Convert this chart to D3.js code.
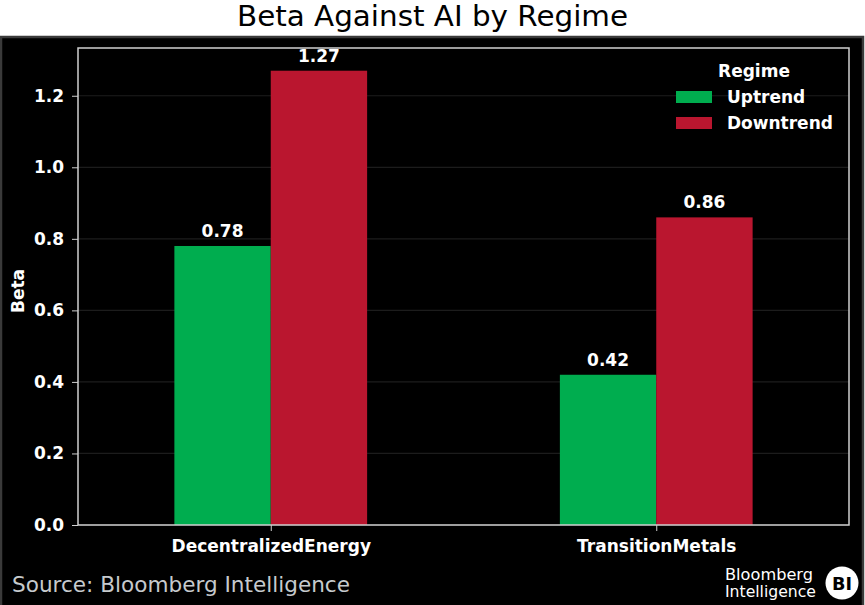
<!DOCTYPE html>
<html><head><meta charset="utf-8">
<script src="https://cdn.jsdelivr.net/npm/d3@7"></script>
<style>
html,body{margin:0;padding:0;background:#fff;}
svg{display:block;}
text{font-family:"DejaVu Sans",sans-serif;}
</style></head>
<body>
<svg id="c" width="865" height="605"></svg>
<script>
const categories = ["DecentralizedEnergy", "TransitionMetals"];
const regimes = ["Uptrend", "Downtrend"];
const uptrend = [0.78, 0.42];
const downtrend = [1.27, 0.86];
const yTicks = [0.0, 0.2, 0.4, 0.6, 0.8, 1.0, 1.2];
const colors = ["#00ad4f", "#ba162f"];
const title = "Beta Against AI by Regime";
const source = "Source: Bloomberg Intelligence";

const series = [uptrend, downtrend];
const svg = d3.select("#c");
const plot = {l: 78, r: 849, t: 48, b: 525};

// title
svg.append("text").attr("x", 432.5).attr("y", 26).attr("text-anchor", "middle")
  .attr("font-size", 28).attr("textLength", 391).attr("lengthAdjust", "spacingAndGlyphs")
  .attr("fill", "#000").text(title);

// black panel
svg.append("rect").attr("x", 1).attr("y", 37).attr("width", 862).attr("height", 570)
  .attr("fill", "#000").attr("stroke", "#3a3a3a").attr("stroke-width", 2.5);

const x = d3.scaleLinear().domain([-0.5, 1.5]).range([plot.l, plot.r]);
const y = d3.scaleLinear().domain([0, 1.27 * 1.05]).range([plot.b, plot.t]);
const bw = x(0.25) - x(0);

// grid
svg.append("g").selectAll("line").data(yTicks).join("line")
  .attr("x1", plot.l).attr("x2", plot.r).attr("y1", d => y(d)).attr("y2", d => y(d))
  .attr("stroke", "#1c1c1c").attr("stroke-width", 1.2);

// bars
series.forEach((vals, si) => {
  svg.append("g").selectAll("rect").data(vals).join("rect")
    .attr("x", (d, i) => x(i) + (si - 1) * bw)
    .attr("y", d => y(d))
    .attr("width", bw)
    .attr("height", d => y(0) - y(d))
    .attr("fill", colors[si]);
  svg.append("g").selectAll("text").data(vals).join("text")
    .attr("x", (d, i) => x(i) + (si - 0.5) * bw)
    .attr("y", d => y(d) - 9)
    .attr("text-anchor", "middle").attr("font-size", 17).attr("font-weight", "bold")
    .attr("fill", "#fff").text(d => d.toFixed(2));
});

// frame
svg.append("rect").attr("x", plot.l).attr("y", plot.t).attr("width", plot.r - plot.l)
  .attr("height", plot.b - plot.t).attr("fill", "none").attr("stroke", "#cfcfcf").attr("stroke-width", 1.5);

// y axis
const yAxis = d3.axisLeft(y).tickValues(yTicks).tickFormat(d3.format(".1f")).tickSize(6).tickPadding(8);
const gy = svg.append("g").attr("transform", `translate(${plot.l},0)`).call(yAxis);
gy.select(".domain").remove();
gy.selectAll("line").attr("stroke", "#cfcfcf");
gy.selectAll("text").attr("fill", "#fff").attr("font-size", 17).attr("font-weight", "bold")
  .attr("font-family", "DejaVu Sans");

// x axis
const xAxis = d3.axisBottom(d3.scalePoint().domain(categories).range([x(0), x(1)])).tickSize(6).tickPadding(9);
const gx = svg.append("g").attr("transform", `translate(0,${plot.b})`).call(xAxis);
gx.select(".domain").remove();
gx.selectAll("line").attr("stroke", "#cfcfcf");
gx.selectAll("text").attr("fill", "#fff").attr("font-size", 17).attr("font-weight", "bold")
  .attr("font-family", "DejaVu Sans");

// y label
svg.append("text").attr("transform", "translate(24,291) rotate(-90)").attr("text-anchor", "middle")
  .attr("font-size", 17).attr("font-weight", "bold").attr("fill", "#fff").text("Beta");

// legend
const lg = svg.append("g");
lg.append("text").attr("x", 754).attr("y", 77).attr("text-anchor", "middle")
  .attr("font-size", 17).attr("font-weight", "bold").attr("fill", "#fff").text("Regime");
regimes.forEach((r, i) => {
  lg.append("rect").attr("x", 676).attr("y", 91 + i * 26).attr("width", 36).attr("height", 12).attr("fill", colors[i]);
  lg.append("text").attr("x", 727).attr("y", 103 + i * 26).attr("font-size", 17).attr("font-weight", "bold")
    .attr("fill", "#fff").text(r);
});

// source
svg.append("text").attr("x", 12).attr("y", 592).attr("font-size", 22)
  .attr("textLength", 338).attr("lengthAdjust", "spacingAndGlyphs")
  .attr("fill", "#c6cacd").text(source);

// logo
svg.append("text").attr("x", 725).attr("y", 580).attr("font-size", 15)
  .attr("textLength", 88).attr("lengthAdjust", "spacingAndGlyphs")
  .attr("fill", "#fff").text("Bloomberg");
svg.append("text").attr("x", 725).attr("y", 597).attr("font-size", 15)
  .attr("textLength", 91).attr("lengthAdjust", "spacingAndGlyphs")
  .attr("fill", "#fff").text("Intelligence");
svg.append("circle").attr("cx", 842).attr("cy", 583).attr("r", 16.5).attr("fill", "#fff");
svg.append("text").attr("x", 842).attr("y", 590).attr("text-anchor", "middle").attr("font-size", 18)
  .attr("font-weight", "bold").attr("textLength", 20).attr("lengthAdjust", "spacingAndGlyphs")
  .attr("fill", "#000").text("BI");
</script>
</body></html>
